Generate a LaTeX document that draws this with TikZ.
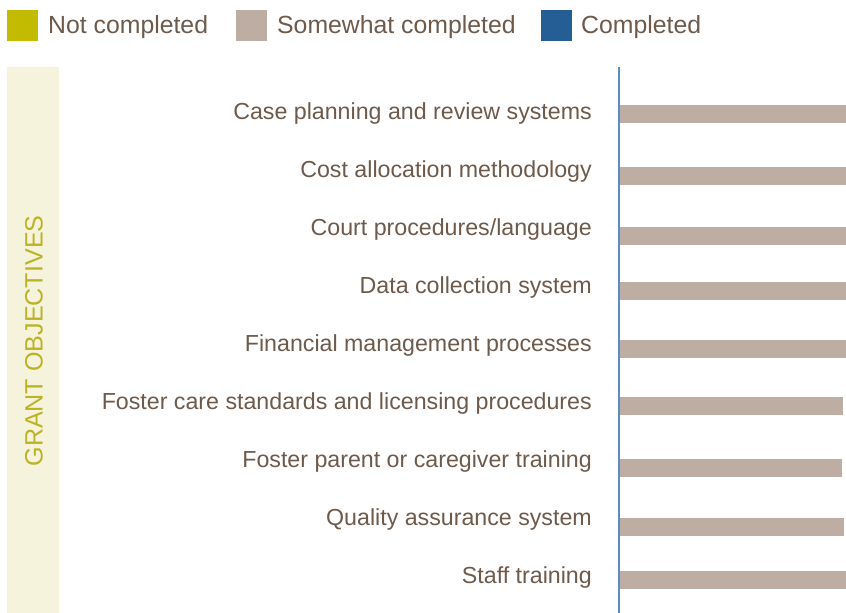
\documentclass[tikz,border=0pt]{standalone}
\usepackage{fontspec}
\setmainfont{Liberation Sans}
\definecolor{txtbrown}{HTML}{6E5A4B}
\definecolor{notc}{HTML}{C2BB00}
\definecolor{somec}{HTML}{BEADA3}
\definecolor{comp}{HTML}{245E94}
\definecolor{band}{HTML}{F5F3DC}
\definecolor{bandtxt}{HTML}{BBB324}
\definecolor{axis}{HTML}{5B8DC0}
\begin{document}
\begin{tikzpicture}[x=1pt,y=-1pt,
  legtext/.style={anchor=base west,inner sep=0pt,text=txtbrown,font=\fontsize{24.8}{28}\selectfont},
  lbl/.style={anchor=base east,inner sep=0pt,text=txtbrown,font=\fontsize{23.2}{27}\selectfont},
  bar/.style={fill=somec,draw=none}]
\useasboundingbox (0,0) rectangle (846,613);
\fill[white] (0,0) rectangle (846,613);
% legend
\fill[notc] (7,10) rectangle (38,41);
\node[legtext] (l1) at (48,34) {Not completed};
\fill[somec] (236,10) rectangle (267,41);
\node[legtext] (l2) at (277,34) {Somewhat completed};
\fill[comp] (541,10) rectangle (572,41);
\node[legtext] (l3) at (581,34) {Completed};
% band
\fill[band] (7,67) rectangle (59,613);
\node[rotate=90,text=bandtxt,font=\fontsize{25.1}{29}\selectfont,inner sep=0pt] (go) at (34,341) {GRANT OBJECTIVES};
% bars
\fill[bar] (620,105) rectangle (846,123);
\fill[bar] (620,167) rectangle (846,185);
\fill[bar] (620,227) rectangle (846,245);
\fill[bar] (620,282) rectangle (846,300);
\fill[bar] (620,340) rectangle (846,358);
\fill[bar] (620,397) rectangle (843,415);
\fill[bar] (620,459) rectangle (842,477);
\fill[bar] (620,518) rectangle (844,536);
\fill[bar] (620,571) rectangle (846,589);
% axis
\draw[axis,line width=1.8pt] (619,67) -- (619,613);
% labels
\node[lbl] (r1) at (592,119) {Case planning and review systems};
\node[lbl] (r2) at (592,177) {Cost allocation methodology};
\node[lbl] (r3) at (592,235) {Court procedures/language};
\node[lbl] (r4) at (592,293) {Data collection system};
\node[lbl] (r5) at (592,351) {Financial management processes};
\node[lbl] (r6) at (592,409) {Foster care standards and licensing procedures};
\node[lbl] (r7) at (592,467) {Foster parent or caregiver training};
\node[lbl] (r8) at (592,525) {Quality assurance system};
\node[lbl] (r9) at (592,583) {Staff training};
\end{tikzpicture}
\end{document}
